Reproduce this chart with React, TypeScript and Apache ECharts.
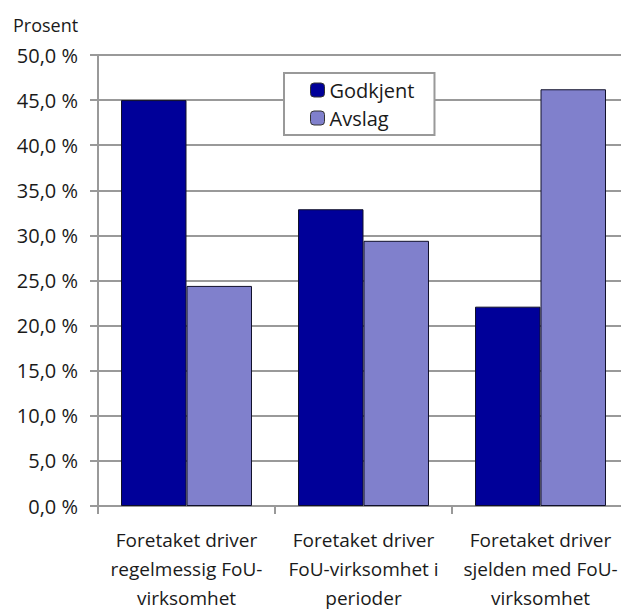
import React, { useEffect, useRef } from "react";
import * as echarts from "echarts";

const categories = [
  "Foretaket driver\nregelmessig FoU-\nvirksomhet",
  "Foretaket driver\nFoU-virksomhet i\nperioder",
  "Foretaket driver\nsjelden med FoU-\nvirksomhet",
];
const godkjent = [45.0, 32.9, 22.1];
const avslag = [24.4, 29.4, 46.2];
const yTicks = { min: 0, max: 50, interval: 5 };

export default function App() {
  const ref = useRef<HTMLDivElement>(null);
  useEffect(() => {
    if (!ref.current) return;
    const chart = echarts.init(ref.current, null, { renderer: "svg" });
    const font = "'Open Sans', 'DejaVu Sans', sans-serif";
    const gray = "#999999";
    chart.setOption({
      animation: false,
      textStyle: { fontFamily: font, color: "#1a1a1a" },
      title: {
        text: "Prosent",
        left: 8,
        top: 11,
        textStyle: { fontFamily: font, fontSize: 18, fontWeight: "normal", color: "#1a1a1a" },
      },
      legend: {
        orient: "vertical",
        left: 284,
        top: 73,
        padding: [7, 20, 7, 26],
        itemGap: 8,
        itemWidth: 14,
        itemHeight: 14,
        itemStyle: { borderColor: "#333", borderWidth: 1 },
        backgroundColor: "#fff",
        borderColor: gray,
        borderWidth: 2,
        borderRadius: 0,
        textStyle: { fontFamily: font, fontSize: 20, color: "#1a1a1a" },
        data: ["Godkjent", "Avslag"],
      },
      grid: { left: 98, top: 55, width: 531, height: 457 },
      xAxis: {
        type: "category",
        data: categories,
        axisLine: { show: true, lineStyle: { color: gray, width: 2 } },
        axisTick: { show: true, length: 8, lineStyle: { color: gray, width: 2 } },
        axisLabel: {
          fontFamily: font,
          fontSize: 19,
          color: "#1a1a1a",
          lineHeight: 29,
          margin: 19,
          interval: 0,
        },
      },
      yAxis: {
        type: "value",
        min: yTicks.min,
        max: yTicks.max,
        interval: yTicks.interval,
        axisLine: { show: true, lineStyle: { color: gray, width: 2 } },
        axisTick: { show: true, length: 8, lineStyle: { color: gray, width: 2 } },
        splitLine: { show: true, lineStyle: { color: gray, width: 2 } },
        axisLabel: {
          fontFamily: font,
          fontSize: 20,
          color: "#1a1a1a",
          margin: 20,
          formatter: (v: number) => v.toFixed(1).replace(".", ",") + " %",
        },
      },
      series: [
        {
          name: "Godkjent",
          type: "bar",
          data: godkjent,
          barGap: "0%",
          barCategoryGap: "26%",
          itemStyle: { color: "#000099", borderColor: "#10102a", borderWidth: 1 },
        },
        {
          name: "Avslag",
          type: "bar",
          data: avslag,
          barGap: "0%",
          barCategoryGap: "26%",
          itemStyle: { color: "#8080cc", borderColor: "#10102a", borderWidth: 1 },
        },
      ],
    });
    return () => chart.dispose();
  }, []);
  return (
    <div
      style={{
        position: "fixed",
        left: 0,
        top: 0,
        width: 621,
        height: 612,
        overflow: "hidden",
        background: "#fff",
      }}
    >
      <div ref={ref} style={{ width: 640, height: 612 }} />
    </div>
  );
}
